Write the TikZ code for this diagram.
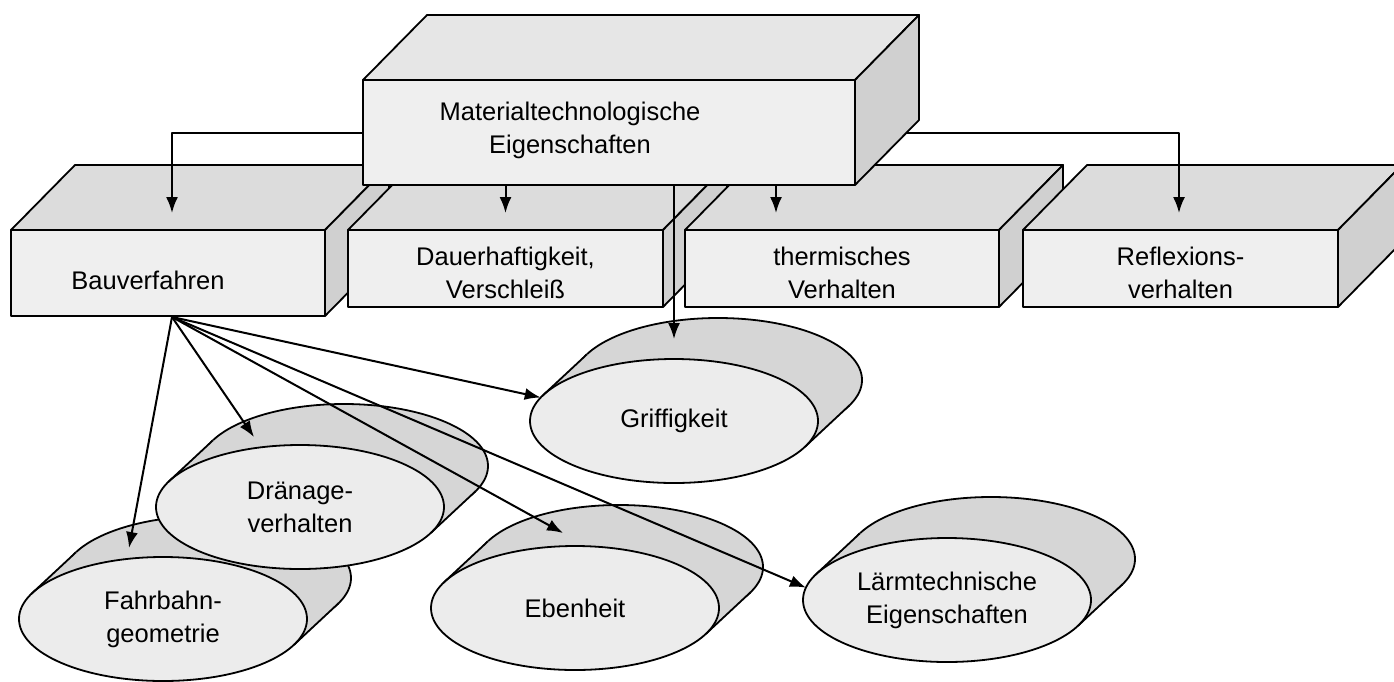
\documentclass[tikz,border=0pt]{standalone}
\usepackage{fontspec}
\setmainfont{Liberation Sans}
\usepackage{xcolor}
\usepackage{tikz}
\usetikzlibrary{calc}
\usetikzlibrary{shapes.geometric}
\usetikzlibrary{arrows.meta}

\definecolor{frontgray}{HTML}{EFEFEF}
\definecolor{topgray}{HTML}{DCDCDC}
\definecolor{sidegray}{HTML}{D0D0D0}
\definecolor{ellback}{HTML}{D6D6D6}
\definecolor{ellfront}{HTML}{ECECEC}

\begin{document}
\begin{tikzpicture}[x=1pt, y=-1pt, line width=1.8pt, line join=round,
  every node/.style={font=\fontsize{25.5}{33}\selectfont, align=center, inner sep=0pt, outer sep=0pt},
  box/.style={draw, fill=frontgray},
  topface/.style={draw, fill=topgray},
  sideface/.style={draw, fill=sidegray},
  backell/.style={ellipse, draw, fill=ellback, minimum width=288pt, minimum height=124pt},
  frontell/.style={ellipse, draw, fill=ellfront, minimum width=288pt, minimum height=124pt},
  arr/.style={line width=2pt, -{Latex[length=16pt,width=12pt]}}]
  \useasboundingbox (0,0) rectangle (1394,681);
  \fill[white] (0,0) rectangle (1394,681);

  % lower row of boxes
  \foreach \nm/\x/\y/\w/\h/\tx/\ty/\txt in {bau/168/273/314/86/-20/7/Bauverfahren,
      dauer/505.5/268.5/315/77/0/4/{Dauerhaftigkeit,\\Verschleiß},
      therm/842/268.5/314/77/0/4/{thermisches\\Verhalten},
      refl/1180.5/268.5/315/77/0/4/{Reflexions-\\verhalten}}{
    \node[box, minimum width=\w pt, minimum height=\h pt] (\nm) at (\x,\y) {};
    \filldraw[topface] (\nm.north west) -- ++(64,-65) -- ($(\nm.north east)+(64,-65)$) -- (\nm.north east) -- cycle;
    \filldraw[sideface] (\nm.north east) -- ++(64,-65) -- ($(\nm.south east)+(64,-65)$) -- (\nm.south east) -- cycle;
    \node (\nm-txt) at ($(\nm)+(\tx,\ty)$) {\txt};
  }

  % cylinders
  \foreach \nm/\x/\y/\txt in {fahr/163/619/{Fahrbahn-\\geometrie},
      draen/300/507/{Dränage-\\verhalten},
      eben/575/608/Ebenheit,
      grif/674/421/Griffigkeit,
      laerm/947/600/{Lärmtechnische\\Eigenschaften}}{
    \node[backell] (\nm-back) at (\x+44,\y-41) {};
    \fill[ellback] (\nm-back.169) -- (\nm-back.349) -- ++(-44,41) -- ($(\nm-back.169)+(-44,41)$) -- cycle;
    \node[frontell] (\nm) at (\x,\y) {\txt};
    \draw (\nm.169) -- (\nm-back.169) (\nm.349) -- (\nm-back.349);
  }

  % top box
  \node[box, minimum width=492pt, minimum height=105pt] (mat) at (609,132.5) {};
  \node (mat-txt) at (570,130) {Materialtechnologische\\Eigenschaften};

  \coordinate (bauin) at ($(bau.north)+(4,-17)$);
  \coordinate (dauerin) at ($(dauer.north)+(0,-17)$);
  \coordinate (thermin) at ($(therm.north)+(-66,-17)$);
  \coordinate (reflin) at ($(refl.north)+(-1.5,-17)$);
  \coordinate (grifin) at ($(grif.north)+(0,-20)$);
  \draw[arr] (mat.west) -| (bauin);
  \draw[arr] (mat.east) -| (reflin);
  \draw[arr] (dauerin |- mat.south) -- (dauerin);
  \draw[arr] (thermin |- mat.south) -- (thermin);
  \draw[arr] (grifin |- mat.south) -- (grifin);

  \filldraw[topface, fill=topgray!70] (mat.north west) -- ++(64,-65) -- ($(mat.north east)+(64,-65)$) -- (mat.north east) -- cycle;
  \filldraw[sideface] (mat.north east) -- ++(64,-65) -- ($(mat.south east)+(64,-65)$) -- (mat.south east) -- cycle;

  % from Bauverfahren
  \coordinate (bauout) at ($(bau.south)+(4,1)$);
  \coordinate (fahrin) at ($(fahr.north)+(-34,-9)$);
  \coordinate (draenin) at ($(draen.north)+(-46,-8)$);
  \coordinate (ebenin) at ($(eben.north)+(-12,-13)$);
  \foreach \tgt in {fahrin, draenin, ebenin, grif.170, laerm.175}
    \draw[arr] (bauout) -- (\tgt);
\end{tikzpicture}
\end{document}
